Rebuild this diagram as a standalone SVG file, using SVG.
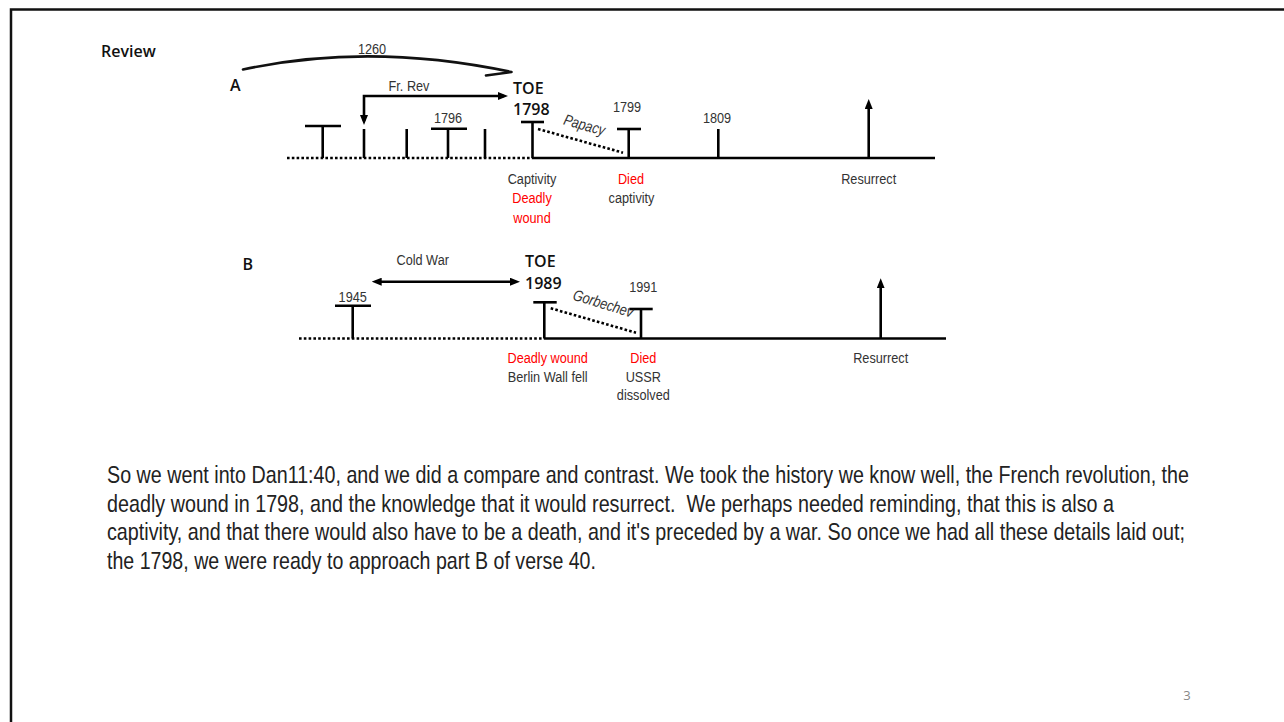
<svg xmlns="http://www.w3.org/2000/svg" width="1284" height="722" viewBox="0 0 1284 722">
<defs>
<style>
.t{font-family:"Liberation Sans",Arial,sans-serif;font-size:15.5px;fill:#333;text-anchor:middle}
.r{fill:#f00}
.h{font-family:"Open Sans","Noto Sans",sans-serif;font-weight:600;font-size:16px;fill:#111}
.body{font-family:"Liberation Sans",Arial,sans-serif;font-size:24px;fill:#222}
.ln{stroke:#000;stroke-width:2.6;fill:none}
.dot{stroke:#000;stroke-width:2.6;stroke-dasharray:2.6 2.2;fill:none}
.it{font-style:italic}
</style>
<marker id="ah" viewBox="0 0 10 8" refX="6" refY="4" markerWidth="10" markerHeight="8" markerUnits="userSpaceOnUse" orient="auto-start-reverse">
<path d="M0,0 L10,4 L0,8 z" fill="#000"/>
</marker>
</defs>
<rect x="0" y="0" width="1284" height="722" fill="#fff"/>
<rect x="11" y="9.5" width="1300" height="740" fill="none" stroke="#111" stroke-width="2.5"/>

<g id="title">
<text class="h" x="101" y="57">Review</text>
</g>

<!-- Timeline A -->
<g id="labelA"><text class="h" x="230" y="91" font-size="17">A</text></g>
<g id="axisA">
<line class="dot" x1="287" y1="158" x2="533" y2="158"/>
<line class="ln" x1="533" y1="158" x2="935" y2="158"/>
</g>
<g id="a-t1">
<line class="ln" x1="305" y1="126" x2="341" y2="126"/>
<line class="ln" x1="322.7" y1="126" x2="322.7" y2="158"/>
</g>
<g id="a-t2"><line class="ln" x1="364" y1="129" x2="364" y2="158"/></g>
<g id="a-t3"><line class="ln" x1="406.7" y1="129" x2="406.7" y2="158"/></g>
<g id="a-1796">
<line class="ln" x1="431" y1="128.7" x2="467" y2="128.7"/>
<line class="ln" x1="448" y1="128.7" x2="448" y2="158"/>
<text class="t" transform="translate(448,123) scale(0.82,1)">1796</text>
</g>
<g id="a-t5"><line class="ln" x1="485" y1="129" x2="485" y2="158"/></g>
<g id="a-1798">
<line class="ln" x1="521" y1="122" x2="544" y2="122"/>
<line class="ln" x1="532.5" y1="122" x2="532.5" y2="158"/>
<text class="h" x="513" y="94" font-size="17">TOE</text>
<text class="h" x="513" y="115" font-size="17">1798</text>
<text class="t" transform="translate(532,184) scale(0.82,1)">Captivity</text>
<text class="t r" transform="translate(532,203) scale(0.82,1)">Deadly</text>
<text class="t r" transform="translate(532,222.5) scale(0.82,1)">wound</text>
</g>
<g id="a-1799">
<line class="ln" x1="617" y1="129" x2="641" y2="129"/>
<line class="ln" x1="628.7" y1="129" x2="628.7" y2="158"/>
<text class="t" transform="translate(627,112) scale(0.82,1)">1799</text>
<text class="t r" transform="translate(631,184) scale(0.82,1)">Died</text>
<text class="t" transform="translate(631.5,203) scale(0.82,1)">captivity</text>
</g>
<g id="a-1809">
<line class="ln" x1="718.3" y1="129" x2="718.3" y2="158"/>
<text class="t" transform="translate(717,123) scale(0.82,1)">1809</text>
</g>
<g id="a-resurrect">
<line class="ln" x1="868.7" y1="158" x2="868.7" y2="103" marker-end="url(#ah)"/>
<text class="t" transform="translate(868.7,184) scale(0.82,1)">Resurrect</text>
</g>

<!-- Timeline B -->
<g id="labelB"><text class="h" x="242.5" y="270" font-size="17">B</text></g>
<g id="axisB">
<line class="dot" x1="299" y1="338.5" x2="544" y2="338.5"/>
<line class="ln" x1="544" y1="338.5" x2="946" y2="338.5"/>
</g>
<g id="b-1945">
<line class="ln" x1="335" y1="305.7" x2="371" y2="305.7"/>
<line class="ln" x1="352.7" y1="305.7" x2="352.7" y2="338.5"/>
<text class="t" transform="translate(352.7,301.7) scale(0.82,1)">1945</text>
</g>
<g id="b-1989">
<line class="ln" x1="533.3" y1="302.3" x2="556.7" y2="302.3"/>
<line class="ln" x1="544.3" y1="302.3" x2="544.3" y2="338.5"/>
<text class="h" x="525" y="267.3" font-size="17">TOE</text>
<text class="h" x="525" y="289" font-size="17">1989</text>
<text class="t r" transform="translate(547.7,362.7) scale(0.82,1)">Deadly wound</text>
<text class="t" transform="translate(547.7,381.7) scale(0.82,1)">Berlin Wall fell</text>
</g>
<g id="b-1991">
<line class="ln" x1="629.3" y1="309" x2="652.7" y2="309"/>
<line class="ln" x1="641" y1="309" x2="641" y2="338.5"/>
<text class="t" transform="translate(643.3,292.3) scale(0.82,1)">1991</text>
<text class="t r" transform="translate(643.3,362.7) scale(0.82,1)">Died</text>
<text class="t" transform="translate(643.3,381.7) scale(0.82,1)">USSR</text>
<text class="t" transform="translate(643.3,400) scale(0.82,1)">dissolved</text>
</g>
<g id="b-resurrect">
<line class="ln" x1="880.7" y1="338.5" x2="880.7" y2="282.3" marker-end="url(#ah)"/>
<text class="t" transform="translate(880.7,362.7) scale(0.82,1)">Resurrect</text>
</g>

<!-- Connectors -->
<g id="connectors">
<path d="M243,69.5 Q 370,42 511.5,72 L 486,75.5" fill="none" stroke="#111" stroke-width="2.6" stroke-linecap="round" stroke-linejoin="round"/>
<text class="t" transform="translate(372,54) scale(0.82,1)">1260</text>
<path class="ln" d="M364,121 L364,96 L504,96" marker-start="url(#ah)" marker-end="url(#ah)"/>
<text class="t" transform="translate(409,91) scale(0.82,1)">Fr. Rev</text>
<line class="dot" x1="538" y1="129" x2="623" y2="152.7"/>
<text class="t it" transform="translate(583,130) rotate(16) scale(0.82,1)" font-size="15">Papacy</text>
<line class="ln" x1="375.7" y1="281.7" x2="516" y2="281.7" marker-start="url(#ah)" marker-end="url(#ah)"/>
<text class="t" transform="translate(422.7,265) scale(0.82,1)">Cold War</text>
<line class="dot" x1="550.7" y1="308.3" x2="636" y2="332.7"/>
<text class="t it" transform="translate(601.7,308.5) rotate(17) scale(0.82,1)" font-size="12.5">Gorbechev</text>
</g>

<g id="body" transform="translate(107,0) scale(0.82,1)">
<text class="body" x="0" y="483.5" textLength="1319.5" lengthAdjust="spacingAndGlyphs">So we went into Dan11:40, and we did a compare and contrast. We took the history we know well, the French revolution, the</text>
<text class="body" x="0" y="512" textLength="1228" lengthAdjust="spacingAndGlyphs" xml:space="preserve">deadly wound in 1798, and the knowledge that it would resurrect.  We perhaps needed reminding, that this is also a</text>
<text class="body" x="0" y="540.5" textLength="1314.6" lengthAdjust="spacingAndGlyphs">captivity, and that there would also have to be a death, and it's preceded by a war. So once we had all these details laid out;</text>
<text class="body" x="0" y="569" textLength="596.3" lengthAdjust="spacingAndGlyphs">the 1798, we were ready to approach part B of verse 40.</text>
</g>
<g id="pagenum"><text x="1187" y="700" font-family="Open Sans, Noto Sans, sans-serif" font-size="13" fill="#888" text-anchor="middle">3</text></g>
</svg>
